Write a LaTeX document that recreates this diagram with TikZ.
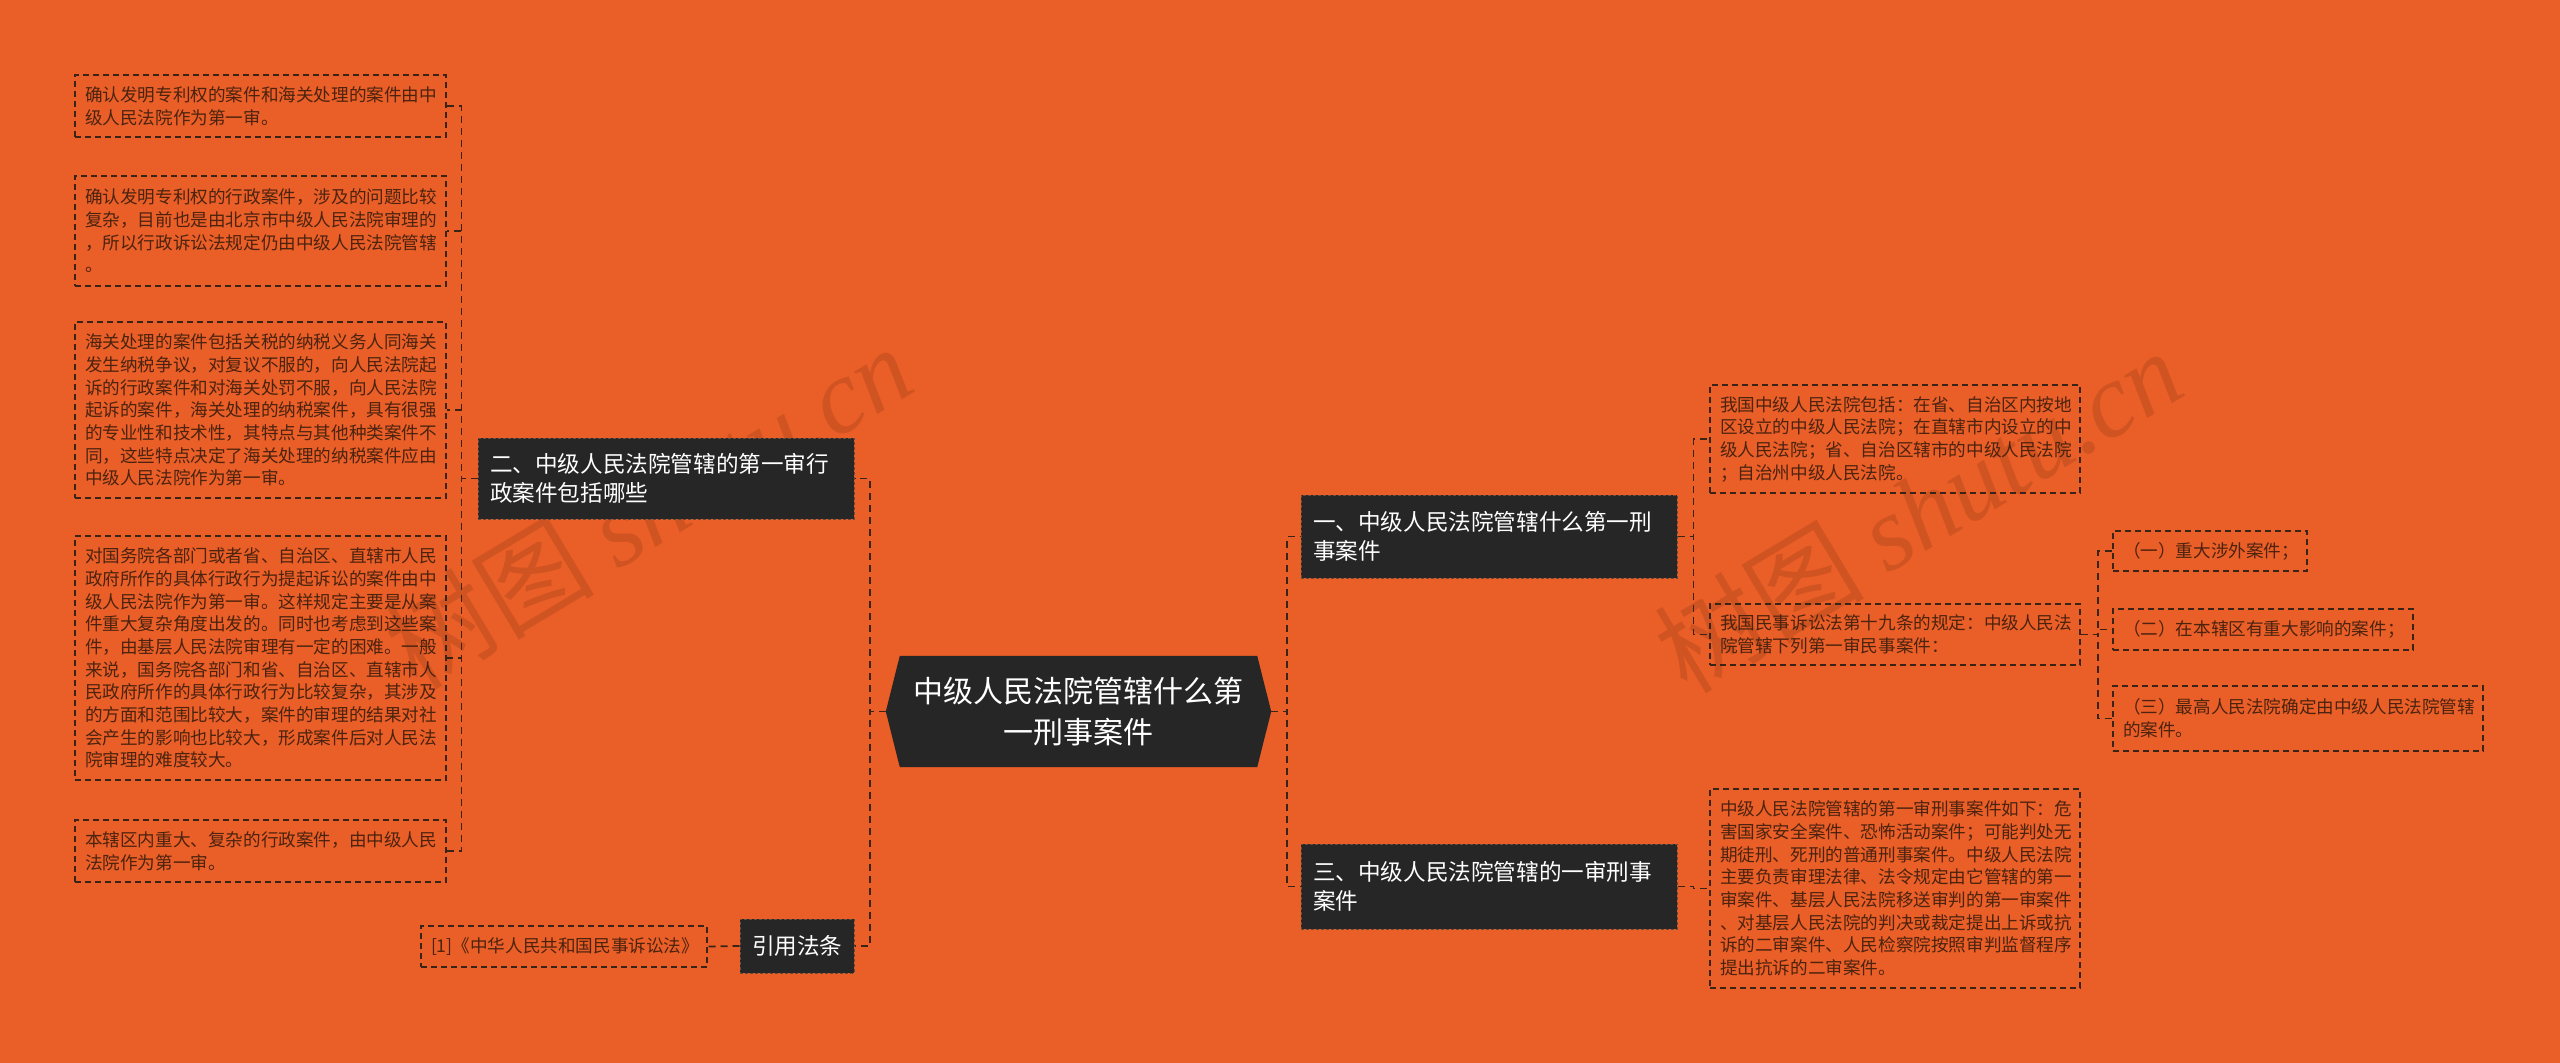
\documentclass[tikz,border=0pt]{standalone}
\usepackage{fontspec}
\setmainfont{Noto Sans CJK SC}
\newfontfamily\wmlatin{Liberation Serif}
\usetikzlibrary{backgrounds,calc}
\definecolor{bgor}{HTML}{EA5E27}
\definecolor{darkbox}{HTML}{262626}
\definecolor{leaftext}{HTML}{4B230F}
\definecolor{linecol}{HTML}{3A2418}
\definecolor{darkedge}{HTML}{6A4A38}
\newcommand\leaffont{\fontsize{17.6pt}{22.7pt}\selectfont}
\newcommand\branchfont{\fontsize{22.6pt}{29pt}\selectfont}
\newcommand\rootfont{\fontsize{30pt}{41pt}\selectfont}
\tikzset{
  leafbox/.style={draw=linecol, dashed, dash pattern=on 6pt off 4pt, line width=1.3pt,
    text=leaftext, font=\leaffont, align=left, inner xsep=10pt, inner ysep=0pt, anchor=center},
  branchbox/.style={fill=darkbox, draw=darkedge, dashed, dash pattern=on 3pt off 2pt, line width=1pt,
    text=white, font=\branchfont, align=left, inner xsep=12pt, inner ysep=0pt, anchor=center},
  rootbox/.style={text=white, font=\rootfont, align=center, inner sep=0pt,
    minimum width=357pt, minimum height=111pt, anchor=center},
  conn/.style={draw=linecol, line width=1.8pt, dash pattern=on 7pt off 5pt},
  wmark/.style={text=black, opacity=0.11, inner sep=0pt}
}
\begin{document}
\begin{tikzpicture}[x=1pt,y=-1pt]
\begin{scope}[on background layer]
\fill[bgor] (0,0) rectangle (2560,1063);
\end{scope}
\useasboundingbox (0,0) rectangle (2560,1063);

% watermarks
\node[wmark, rotate=31] (wm1) at (648,506) {\fontsize{105pt}{110pt}\selectfont 树图 {\wmlatin\itshape shutu.cn}};
\node[wmark, rotate=31] (wm2) at (1918,510) {\fontsize{105pt}{110pt}\selectfont 树图 {\wmlatin\itshape shutu.cn}};

% root
\node[rootbox] (root) at (1078.5,711.5) {中级人民法院管辖什么第\\一刑事案件};
\begin{scope}[on background layer]
\fill[darkbox] (root.north west) -- (root.north east) -- ([xshift=14pt]root.east)
  -- (root.south east) -- (root.south west) -- ([xshift=-14pt]root.west) -- cycle;
\end{scope}
\coordinate (rootL) at ([xshift=-14pt]root.west);
\coordinate (rootR) at ([xshift=14pt]root.east);

% branches
\node[branchbox, text width=352pt, minimum height=81pt] (b2) at (666,478.5) {二、中级人民法院管辖的第一审行\\政案件包括哪些};
\node[branchbox, text width=90pt, minimum height=54pt, inner xsep=12pt] (cite) at (797,946) {引用法条};
\node[branchbox, text width=352pt, minimum height=83pt] (b1) at (1489,536.5) {一、中级人民法院管辖什么第一刑\\事案件};
\node[branchbox, text width=352pt, minimum height=85pt] (b3) at (1489,886.5) {三、中级人民法院管辖的一审刑事\\案件};

% left leaves
\node[leafbox, text width=351pt, minimum height=62pt] (L1) at (260.5,106) {确认发明专利权的案件和海关处理的案件由中\\级人民法院作为第一审。};
\node[leafbox, text width=351pt, minimum height=110pt] (L2) at (260.5,231) {确认发明专利权的行政案件，涉及的问题比较\\复杂，目前也是由北京市中级人民法院审理的\\，所以行政诉讼法规定仍由中级人民法院管辖\\。};
\node[leafbox, text width=351pt, minimum height=176pt] (L3) at (260.5,410) {海关处理的案件包括关税的纳税义务人同海关\\发生纳税争议，对复议不服的，向人民法院起\\诉的行政案件和对海关处罚不服，向人民法院\\起诉的案件，海关处理的纳税案件，具有很强\\的专业性和技术性，其特点与其他种类案件不\\同，这些特点决定了海关处理的纳税案件应由\\中级人民法院作为第一审。};
\node[leafbox, text width=351pt, minimum height=244pt] (L4) at (260.5,658) {对国务院各部门或者省、自治区、直辖市人民\\政府所作的具体行政行为提起诉讼的案件由中\\级人民法院作为第一审。这样规定主要是从案\\件重大复杂角度出发的。同时也考虑到这些案\\件，由基层人民法院审理有一定的困难。一般\\来说，国务院各部门和省、自治区、直辖市人\\民政府所作的具体行政行为比较复杂，其涉及\\的方面和范围比较大，案件的审理的结果对社\\会产生的影响也比较大，形成案件后对人民法\\院审理的难度较大。};
\node[leafbox, text width=351pt, minimum height=62pt] (L5) at (260.5,851) {本辖区内重大、复杂的行政案件，由中级人民\\法院作为第一审。};
\node[leafbox, text width=266pt, minimum height=41pt] (citeleaf) at (564,946.5) {[1]《中华人民共和国民事诉讼法》};

% right leaves
\node[leafbox, text width=350pt, minimum height=108pt] (R1) at (1895,439) {我国中级人民法院包括：在省、自治区内按地\\区设立的中级人民法院；在直辖市内设立的中\\级人民法院；省、自治区辖市的中级人民法院\\；自治州中级人民法院。};
\node[leafbox, text width=350pt, minimum height=61pt] (R2) at (1895,634.5) {我国民事诉讼法第十九条的规定：中级人民法\\院管辖下列第一审民事案件：};
\node[leafbox, text width=350pt, minimum height=199pt] (R3) at (1895,888.5) {中级人民法院管辖的第一审刑事案件如下：危\\害国家安全案件、恐怖活动案件；可能判处无\\期徒刑、死刑的普通刑事案件。中级人民法院\\主要负责审理法律、法令规定由它管辖的第一\\审案件、基层人民法院移送审判的第一审案件\\、对基层人民法院的判决或裁定提出上诉或抗\\诉的二审案件、人民检察院按照审判监督程序\\提出抗诉的二审案件。};
\node[leafbox, text width=174pt, minimum height=40pt] (S1) at (2210,551) {（一）重大涉外案件；};
\node[leafbox, text width=280pt, minimum height=41pt] (S2) at (2263,629.5) {（二）在本辖区有重大影响的案件；};
\node[leafbox, text width=350pt, minimum height=65pt] (S3) at (2298,718.5) {（三）最高人民法院确定由中级人民法院管辖\\的案件。};

% connectors
\draw[conn] (rootL) -- ++(-16,0) |- (b2.east);
\draw[conn] (rootL) -- ++(-16,0) |- (cite.east);
\draw[conn] (rootR) -- ++(16,0) |- (b1.west);
\draw[conn] (rootR) -- ++(16,0) |- (b3.west);
\foreach \n in {L1,L2,L3,L4,L5}
  \draw[conn] (b2.west) -- ++(-16,0) |- (\n.east);
\draw[conn] (cite.west) -- (citeleaf.east);
\draw[conn] (b1.east) -- ++(16,0) |- (R1.west);
\draw[conn] (b1.east) -- ++(16,0) |- (R2.west);
\draw[conn] (b3.east) -- ++(16,0) |- (R3.west);
\foreach \n in {S1,S2,S3}
  \draw[conn] (R2.east) -- ++(17,0) |- (\n.west);
\end{tikzpicture}
\end{document}
